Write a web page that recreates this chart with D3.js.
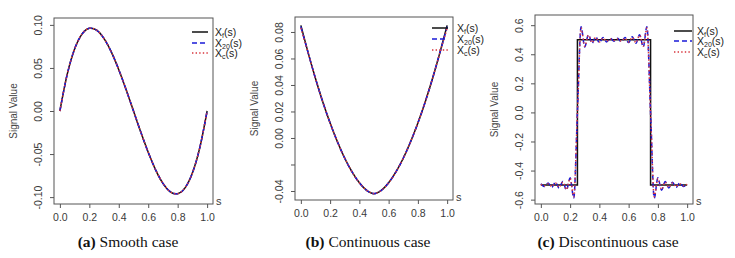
<!DOCTYPE html>
<html>
<head>
<meta charset="utf-8">
<script src="https://cdn.jsdelivr.net/npm/d3@7"></script>
<style>
  body { margin: 0; background: #fff; }
  svg { display: block; }
  .tick-label { font-family: "Liberation Sans", Arial, sans-serif; font-size: 10.5px; fill: #3a3a3a; }
  .axis-title { font-family: "Liberation Sans", Arial, sans-serif; font-size: 10px; fill: #444; }
  .legend-text { font-family: "Liberation Sans", Arial, sans-serif; font-size: 10.5px; fill: #222; }
</style>
</head>
<body>
<div id="chart"></div>
<script>
// ---- data ----
const xTicks = [0, 0.2, 0.4, 0.6, 0.8, 1.0];
const xTickLabels = ['0.0', '0.2', '0.4', '0.6', '0.8', '1.0'];

// (a) smooth case
const smoothS    = [0, 0.05, 0.1, 0.15, 0.2, 0.21, 0.25, 0.3, 0.35, 0.4, 0.45, 0.5, 0.55, 0.6, 0.65, 0.7, 0.75, 0.79, 0.8, 0.85, 0.9, 0.95, 1.0];
const smoothTrue = [0, 0.0428, 0.072, 0.0893, 0.096, 0.0962, 0.0938, 0.084, 0.0683, 0.048, 0.0248, 0, -0.0248, -0.048, -0.0683, -0.084, -0.0938, -0.0962, -0.096, -0.0893, -0.072, -0.0428, 0];
const smoothX20  = [0, 0.0427, 0.0721, 0.0892, 0.0961, 0.0962, 0.0937, 0.0841, 0.0682, 0.0481, 0.0247, 0, -0.0247, -0.0481, -0.0682, -0.0841, -0.0937, -0.0962, -0.0961, -0.0892, -0.0721, -0.0427, 0];
const smoothXc   = [0, 0.0428, 0.072, 0.0893, 0.096, 0.0962, 0.0938, 0.084, 0.0683, 0.048, 0.0248, 0, -0.0248, -0.048, -0.0683, -0.084, -0.0938, -0.0962, -0.096, -0.0893, -0.072, -0.0428, 0];
const smoothYTicks = [-0.10, -0.05, 0.00, 0.05, 0.10];
const smoothYLabels = ['-0.10', '-0.05', '0.00', '0.05', '0.10'];

// (b) continuous case
const contS    = [0, 0.05, 0.1, 0.15, 0.2, 0.25, 0.3, 0.35, 0.4, 0.45, 0.5, 0.55, 0.6, 0.65, 0.7, 0.75, 0.8, 0.85, 0.9, 0.95, 1.0];
const contTrue = [0.085, 0.0642, 0.0449, 0.0272, 0.0113, -0.0029, -0.0153, -0.0256, -0.0338, -0.0395, -0.042, -0.0395, -0.0338, -0.0256, -0.0153, -0.0029, 0.0113, 0.0272, 0.0449, 0.0642, 0.085];
const contX20  = [0.084, 0.0642, 0.0449, 0.0272, 0.0113, -0.0029, -0.0153, -0.0256, -0.0338, -0.0395, -0.0419, -0.0395, -0.0338, -0.0256, -0.0153, -0.0029, 0.0113, 0.0272, 0.0449, 0.0642, 0.084];
const contXc   = [0.083, 0.0641, 0.0449, 0.0272, 0.0113, -0.0029, -0.0153, -0.0256, -0.0338, -0.0395, -0.0419, -0.0395, -0.0338, -0.0256, -0.0153, -0.0029, 0.0113, 0.0272, 0.0449, 0.0641, 0.083];
const contYTicks = [-0.04, -0.02, 0.00, 0.02, 0.04, 0.06, 0.08];
const contYLabels = ['-0.04', '', '0.00', '0.02', '0.04', '0.06', '0.08'];

// (c) discontinuous case
const stepS    = [0, 0.25, 0.25, 0.75, 0.75, 1.0];
const stepTrue = [-0.5, -0.5, 0.5, 0.5, -0.5, -0.5];
const discS    = [0, 0.025, 0.05, 0.075, 0.1, 0.125, 0.15, 0.175, 0.2, 0.225, 0.25, 0.275, 0.3, 0.325, 0.35, 0.375, 0.4, 0.425, 0.45, 0.475, 0.5,
                  0.525, 0.55, 0.575, 0.6, 0.625, 0.65, 0.675, 0.7, 0.725, 0.75, 0.775, 0.8, 0.825, 0.85, 0.875, 0.9, 0.925, 0.95, 0.975, 1.0];
const discX20  = [-0.49, -0.51, -0.485, -0.515, -0.48, -0.52, -0.475, -0.535, -0.45, -0.59, 0.0, 0.59, 0.45, 0.535, 0.475, 0.52, 0.48, 0.515, 0.485, 0.51, 0.49,
                  0.51, 0.485, 0.515, 0.48, 0.52, 0.475, 0.535, 0.45, 0.59, 0.0, -0.59, -0.45, -0.535, -0.475, -0.52, -0.48, -0.515, -0.485, -0.51, -0.49];
const discXc   = [-0.495, -0.505, -0.49, -0.51, -0.485, -0.515, -0.48, -0.53, -0.455, -0.58, 0.0, 0.58, 0.455, 0.53, 0.48, 0.515, 0.485, 0.51, 0.49, 0.505, 0.495,
                  0.505, 0.49, 0.51, 0.485, 0.515, 0.48, 0.53, 0.455, 0.58, 0.0, -0.58, -0.455, -0.53, -0.48, -0.515, -0.485, -0.51, -0.49, -0.505, -0.495];
const discYTicks = [-0.6, -0.4, -0.2, 0.0, 0.2, 0.4, 0.6];
const discYLabels = ['-0.6', '-0.4', '-0.2', '0.0', '0.2', '0.4', '0.6'];

const legendNames = [['X', 'f', '(s)'], ['X', '20', '(s)'], ['X', 'c', '(s)']];

const panels = [
  {
    box: { left: 54, right: 213, top: 18, bottom: 204 },
    yDomain: [-0.108, 0.108],
    yTicks: smoothYTicks, yLabels: smoothYLabels,
    series: [[smoothS, smoothTrue], [smoothS, smoothX20], [smoothS, smoothXc]],
    smooth: [true, true, true],
    legend: { x0: 192, x1: 208, tx: 215, rows: [32, 43, 53] },
    caption: ['(a)', ' Smooth case'], captionX: 128
  },
  {
    box: { left: 295, right: 453, top: 17, bottom: 200 },
    yDomain: [-0.0468, 0.0913],
    yTicks: contYTicks, yLabels: contYLabels,
    series: [[contS, contTrue], [contS, contX20], [contS, contXc]],
    smooth: [true, true, true],
    legend: { x0: 432, x1: 448, tx: 457, rows: [28, 39, 50] },
    caption: ['(b)', ' Continuous case'], captionX: 368
  },
  {
    box: { left: 535, right: 693, top: 15, bottom: 204 },
    yDomain: [-0.63, 0.67],
    yTicks: discYTicks, yLabels: discYLabels,
    series: [[stepS, stepTrue], [discS, discX20], [discS, discXc]],
    smooth: [false, true, true],
    legend: { x0: 674, x1: 692, tx: 697, rows: [31, 41, 52] },
    caption: ['(c)', ' Discontinuous case'], captionX: 608
  }
];

const lineStyles = [
  { color: '#111', dash: null, width: 1.5 },
  { color: '#1a1ad8', dash: '5,3', width: 1.5 },
  { color: '#d8353d', dash: '1.4,2.2', width: 1.5 }
];

const svg = d3.select('#chart').append('svg')
  .attr('width', 735)
  .attr('height', 258);

panels.forEach(p => {
  const b = p.box;
  // R-style 4% padding on x
  const x = d3.scaleLinear().domain([-0.04, 1.04]).range([b.left, b.right]);
  const y = d3.scaleLinear().domain(p.yDomain).range([b.bottom, b.top]);
  const g = svg.append('g');

  // Curves
  p.series.forEach((sr, i) => {
    const pts = sr[0].map((s, k) => [s, sr[1][k]]);
    const line = d3.line()
      .x(d => x(d[0]))
      .y(d => y(d[1]))
      .curve(p.smooth[i] ? d3.curveMonotoneX : d3.curveLinear);
    const st = lineStyles[i];
    g.append('path')
      .datum(pts)
      .attr('d', line)
      .attr('fill', 'none')
      .attr('stroke', st.color)
      .attr('stroke-width', st.width)
      .attr('stroke-dasharray', st.dash);
  });

  // Box
  g.append('rect')
    .attr('x', b.left).attr('y', b.top)
    .attr('width', b.right - b.left).attr('height', b.bottom - b.top)
    .attr('fill', 'none').attr('stroke', '#555').attr('stroke-width', 1);

  // x axis
  const xAxis = d3.axisBottom(x).tickValues(xTicks).tickSize(4).tickPadding(6)
    .tickFormat((d, i) => xTickLabels[i]);
  const xg = g.append('g').attr('transform', `translate(0,${b.bottom})`).call(xAxis);
  xg.select('.domain').remove();
  xg.selectAll('line').attr('stroke', '#555');
  xg.selectAll('text').attr('class', 'tick-label').attr('font-family', null).attr('font-size', null);

  // y axis
  const yAxis = d3.axisLeft(y).tickValues(p.yTicks).tickSize(4).tickFormat((d, i) => p.yLabels[i]);
  const yg = g.append('g').attr('transform', `translate(${b.left},0)`).call(yAxis);
  yg.select('.domain').remove();
  yg.selectAll('line').attr('stroke', '#555');
  yg.selectAll('text')
    .attr('class', 'tick-label').attr('font-family', null).attr('font-size', null)
    .attr('x', null).attr('dy', null)
    .attr('text-anchor', 'middle')
    .attr('transform', 'translate(-12,0) rotate(-90)');

  // axis titles
  g.append('text')
    .attr('class', 'axis-title')
    .attr('transform', `translate(${b.left - 37},${(b.top + b.bottom) / 2}) rotate(-90)`)
    .attr('text-anchor', 'middle')
    .text('Signal Value');
  g.append('text')
    .attr('class', 'tick-label')
    .attr('x', b.right + 3)
    .attr('y', b.bottom + 1)
    .style('font-size', '11px')
    .text('s');

  // Legend
  legendNames.forEach((nm, i) => {
    const ly = p.legend.rows[i];
    const st = lineStyles[i];
    g.append('line')
      .attr('x1', p.legend.x0).attr('x2', p.legend.x1)
      .attr('y1', ly).attr('y2', ly)
      .attr('stroke', st.color).attr('stroke-width', st.width)
      .attr('stroke-dasharray', st.dash);
    const t = g.append('text').attr('class', 'legend-text')
      .attr('x', p.legend.tx).attr('y', ly + 3.5);
    t.append('tspan').text(nm[0]);
    t.append('tspan').attr('dy', 2).style('font-size', '7px').text(nm[1]);
    t.append('tspan').attr('dy', -2).text(nm[2]);
  });

  // Caption
  const cap = g.append('text')
    .attr('font-family', '"Liberation Serif", "DejaVu Serif", "Times New Roman", serif')
    .attr('font-size', 15.5)
    .attr('fill', '#111')
    .attr('x', p.captionX).attr('y', 247).attr('text-anchor', 'middle');
  cap.append('tspan').attr('font-weight', 'bold').text(p.caption[0]);
  cap.append('tspan').text(p.caption[1]);
});
</script>
</body>
</html>
